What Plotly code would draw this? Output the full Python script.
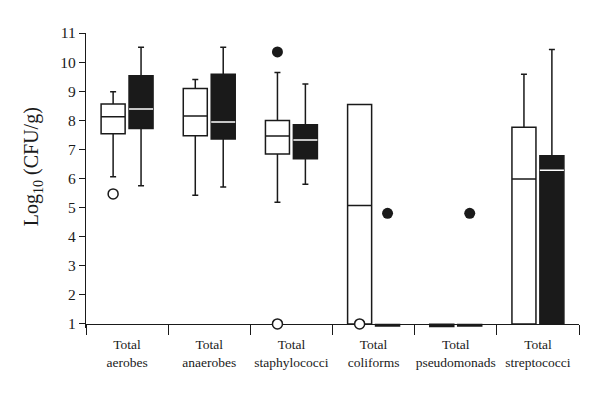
import plotly.graph_objects as go

categories = ["Total<br>aerobes", "Total<br>anaerobes", "Total<br>staphylococci",
              "Total<br>coliforms", "Total<br>pseudomonads", "Total<br>streptococci"]

# Group 1 (open boxes)
w_lower = [6.06, 5.42, 5.18, 1.00, 0.91, 1.00]
w_q1 = [7.54, 7.47, 6.84, 1.00, 0.91, 1.00]
w_median = [8.12, 8.15, 7.46, 5.07, 0.91, 5.98]
w_q3 = [8.56, 9.09, 7.99, 8.54, 0.99, 7.76]
w_upper = [8.98, 9.40, 9.64, 8.54, 0.99, 9.58]

# Group 2 (filled boxes)
b_lower = [5.75, 5.71, 5.80, 0.93, 0.93, 1.00]
b_q1 = [7.72, 7.36, 6.68, 0.93, 0.93, 1.00]
b_median = [8.39, 7.94, 7.32, 0.93, 0.93, 6.28]
b_q3 = [9.53, 9.58, 7.85, 0.98, 0.98, 6.78]
b_upper = [10.51, 10.51, 9.25, 0.98, 0.98, 10.43]

# Visible white median lines of filled boxes
bmed_cats = [categories[0], categories[1], categories[2], categories[5]]
bmed_vals = [8.39, 7.94, 7.32, 6.28]

# Outliers: open circles and filled circles, placed in box slot 1 or 2
open_out_cats = [categories[0], categories[2], categories[3]]
open_out_vals = [5.47, 1.00, 1.00]
filled_out_slot1_cats = [categories[2]]
filled_out_slot1_vals = [10.35]
filled_out_slot2_cats = [categories[3], categories[4]]
filled_out_slot2_vals = [4.80, 4.80]

y_ticks = list(range(1, 12))
y_title = "Log<sub>10</sub> (CFU/g)"

FONT = "Liberation Serif, Times New Roman, serif"
INK = "#1a1a1a"
ymin, ymax = 0.86, 11.0

fig = go.Figure()
fig.add_trace(go.Box(
    x=categories, q1=w_q1, median=w_median, q3=w_q3,
    lowerfence=w_lower, upperfence=w_upper,
    fillcolor="white", line=dict(color=INK, width=1.5),
    whiskerwidth=0.25, boxpoints=False, offsetgroup="w", showlegend=False,
    hoverinfo="skip"))
fig.add_trace(go.Box(
    x=categories, q1=b_q1, median=b_median, q3=b_q3,
    lowerfence=b_lower, upperfence=b_upper,
    fillcolor=INK, line=dict(color=INK, width=1.5),
    whiskerwidth=0.25, boxpoints=False, offsetgroup="b", showlegend=False,
    hoverinfo="skip"))
fig.add_trace(go.Box(
    x=bmed_cats, q1=bmed_vals, median=bmed_vals, q3=bmed_vals,
    lowerfence=bmed_vals, upperfence=bmed_vals,
    fillcolor="white", line=dict(color="white", width=1.5),
    whiskerwidth=0, boxpoints=False, offsetgroup="b", showlegend=False,
    hoverinfo="skip"))

fig.add_trace(go.Scatter(
    x=open_out_cats, y=open_out_vals, mode="markers", offsetgroup="w",
    marker=dict(symbol="circle", size=10, color="white",
                line=dict(color=INK, width=1.5)),
    showlegend=False, cliponaxis=False))
fig.add_trace(go.Scatter(
    x=filled_out_slot1_cats, y=filled_out_slot1_vals, mode="markers", offsetgroup="w",
    marker=dict(symbol="circle", size=11, color=INK, line=dict(width=0)),
    showlegend=False, cliponaxis=False))
fig.add_trace(go.Scatter(
    x=filled_out_slot2_cats, y=filled_out_slot2_vals, mode="markers", offsetgroup="b",
    marker=dict(symbol="circle", size=11, color=INK, line=dict(width=0)),
    showlegend=False, cliponaxis=False))

fig.update_layout(
    width=600, height=394,
    margin=dict(l=86, r=21, t=33, b=66),
    paper_bgcolor="white", plot_bgcolor="white",
    boxmode="group", boxgap=0.32, boxgroupgap=0.14,
    scattermode="group", scattergap=0.32,
    font=dict(family=FONT, color=INK),
    xaxis=dict(
        type="category", categoryorder="array", categoryarray=categories,
        tickson="boundaries", ticks="outside", ticklen=10, tickwidth=1.3,
        tickcolor=INK, showline=True, linecolor=INK, linewidth=1.3,
        showgrid=False, zeroline=False, anchor="free", automargin=False,
        position=(1 - ymin) / (ymax - ymin), layer="below traces",
        ticklabelstandoff=8,
        tickangle=0, tickfont=dict(size=13.5, family=FONT), range=[-0.5, 5.5]),
    yaxis=dict(
        range=[ymin, ymax], tickvals=y_ticks, ticks="outside", ticklen=6,
        tickwidth=1.3, tickcolor=INK, showline=True, linecolor=INK,
        linewidth=1.3, showgrid=False, zeroline=False, automargin=False,
        tickfont=dict(size=15.5, family=FONT)),
    annotations=[dict(
        text=y_title, textangle=-90, xref="paper", yref="paper",
        x=-0.107, y=0.546, xanchor="center", yanchor="middle",
        showarrow=False, font=dict(size=20, family=FONT, color=INK))],
)

fig.write_html("out.html", config={"displayModeBar": False},
               post_script="document.body.style.margin='0px';document.body.style.overflow='hidden';")
